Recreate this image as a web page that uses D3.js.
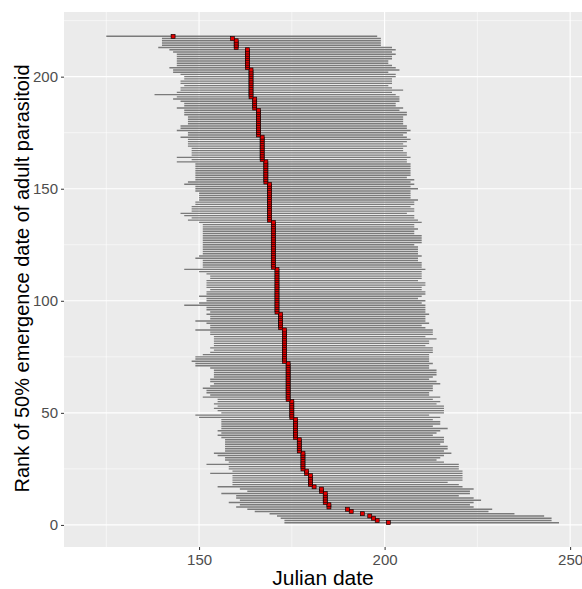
<!DOCTYPE html>
<html>
<head>
<meta charset="utf-8">
<script src="https://cdn.jsdelivr.net/npm/d3@7"></script>
<style>
  html, body { margin: 0; padding: 0; background: #fff; }
  svg { display: block; font-family: "Liberation Sans", Arial, sans-serif; }
</style>
</head>
<body>
<div id="chart"></div>
<script>
// rank 1 (bottom) .. 218 (top)
const startDay = [
  173,173,172,171,169,165,163,160,161,158,
  161,160,160,156,163,161,155,159,159,159,
  159,159,153,159,158,158,152,158,157,157,
  155,154,157,157,157,157,157,157,156,155,
  156,155,156,156,156,156,156,150,149,156,
  155,154,155,154,155,155,151,153,152,152,
  151,153,154,153,153,154,154,154,154,153,
  149,149,148,149,149,151,153,154,153,154,
  154,154,154,154,153,153,149,153,153,152,
  149,153,153,152,153,152,152,146,150,152,
  152,150,152,152,153,152,152,152,152,153,
  153,152,150,146,151,151,151,151,149,150,
  151,151,151,151,151,151,151,151,151,151,
  151,151,151,151,150,147,148,146,145,148,
  148,148,149,149,150,150,150,150,149,149,
  149,146,147,149,149,149,149,149,149,149,
  149,144,148,144,148,148,148,148,147,147,
  147,147,145,147,147,144,145,145,147,147,
  147,147,146,146,146,144,146,146,145,143,
  144,138,144,145,145,146,145,145,146,146,
  145,143,143,142,144,144,144,144,144,144,
  143,142,139,140,140,140,140,125
];

const midDay = [
  201,198,197,196,194,191,190,185,185,184,
  184,184,184,184,183,183,181,180,180,180,
  180,180,179,179,178,178,178,178,178,178,
  178,178,177,177,177,177,177,177,176,176,
  176,176,176,176,176,176,176,175,175,175,
  175,175,175,175,175,174,174,174,174,174,
  174,174,174,174,174,174,174,174,174,174,
  174,174,173,173,173,173,173,173,173,173,
  173,173,173,173,173,173,173,172,172,172,
  172,172,172,172,171,171,171,171,171,171,
  171,171,171,171,171,171,171,171,171,171,
  171,171,171,171,170,170,170,170,170,170,
  170,170,170,170,170,170,170,170,170,170,
  170,170,170,170,170,169,169,169,169,169,
  169,169,169,169,169,169,169,169,169,169,
  169,169,168,168,168,168,168,168,168,168,
  168,168,167,167,167,167,167,167,167,167,
  167,167,167,166,166,166,166,166,166,166,
  166,166,166,166,166,165,165,165,165,165,
  164,164,164,164,164,164,164,164,164,164,
  164,164,164,163,163,163,163,163,163,163,
  163,163,160,160,160,160,159,143
];

const endDay = [
  247,245,245,243,235,228,229,224,223,224,
  226,224,220,223,223,224,221,220,217,221,
  221,221,221,221,220,220,220,216,214,215,
  216,218,216,217,217,215,216,216,216,213,
  214,215,217,213,215,215,213,215,212,216,
  216,216,216,214,215,213,215,212,212,213,
  213,213,215,214,212,213,214,214,214,212,
  212,213,212,212,212,212,213,213,213,211,
  212,212,214,211,213,213,213,211,210,212,
  211,211,211,212,211,211,211,211,210,211,
  209,210,211,211,210,210,211,211,209,210,
  210,210,210,211,210,210,210,209,209,210,
  209,209,209,209,208,210,210,210,210,208,
  208,209,208,208,210,209,208,208,206,208,
  208,207,208,208,209,207,207,207,207,209,
  207,208,207,208,206,207,207,207,207,207,
  207,206,206,207,206,206,205,205,206,205,
  206,207,206,205,206,207,206,206,205,205,
  205,205,206,206,204,205,203,203,204,204,
  204,203,202,205,202,201,202,202,202,203,
  203,201,204,203,202,201,201,202,202,203,
  202,203,202,199,199,199,199,198
];

const xTicks = [150, 200, 250];
const xMinor = [125, 175, 225];
const yTicks = [0, 50, 100, 150, 200];
const yMinor = [25, 75, 125, 175, 225];

const rows = startDay.map((s, i) => ({ rank: i + 1, start: s, mid: midDay[i], end: endDay[i] }));

const WIDTH = 582, HEIGHT = 589;
const PANEL = { left: 64, top: 12, right: 582, bottom: 547 };

const svg = d3.select('#chart').append('svg')
  .attr('width', WIDTH)
  .attr('height', HEIGHT);

const x = d3.scaleLinear().domain([113.6, 253.2]).range([PANEL.left, PANEL.right]);
const y = d3.scaleLinear().domain([-9.85, 228.85]).range([PANEL.bottom, PANEL.top]);

// panel background
svg.append('rect')
  .attr('x', PANEL.left).attr('y', PANEL.top)
  .attr('width', PANEL.right - PANEL.left)
  .attr('height', PANEL.bottom - PANEL.top)
  .attr('fill', '#ebebeb');

const grid = svg.append('g');
grid.selectAll('.vminor').data(xMinor).join('line')
  .attr('x1', d => x(d)).attr('x2', d => x(d))
  .attr('y1', PANEL.top).attr('y2', PANEL.bottom)
  .attr('stroke', '#fff').attr('stroke-width', 0.55);
grid.selectAll('.hminor').data(yMinor).join('line')
  .attr('y1', d => y(d)).attr('y2', d => y(d))
  .attr('x1', PANEL.left).attr('x2', PANEL.right)
  .attr('stroke', '#fff').attr('stroke-width', 0.55);
grid.selectAll('.vmajor').data(xTicks).join('line')
  .attr('x1', d => x(d)).attr('x2', d => x(d))
  .attr('y1', PANEL.top).attr('y2', PANEL.bottom)
  .attr('stroke', '#fff').attr('stroke-width', 1.1);
grid.selectAll('.hmajor').data(yTicks).join('line')
  .attr('y1', d => y(d)).attr('y2', d => y(d))
  .attr('x1', PANEL.left).attr('x2', PANEL.right)
  .attr('stroke', '#fff').attr('stroke-width', 1.1);

// emergence ranges
svg.append('g').selectAll('line').data(rows).join('line')
  .attr('x1', d => x(d.start)).attr('x2', d => x(d.end))
  .attr('y1', d => y(d.rank)).attr('y2', d => y(d.rank))
  .attr('stroke', '#7a7a7a')
  .attr('stroke-width', 1.4);

// 50% emergence points
const S = 4;
svg.append('g').selectAll('rect').data(rows).join('rect')
  .attr('x', d => x(d.mid) - S / 2).attr('y', d => y(d.rank) - S / 2)
  .attr('width', S).attr('height', S)
  .attr('fill', '#e00000')
  .attr('stroke', '#000')
  .attr('stroke-width', 0.6);

// axes
const xAxis = svg.append('g')
  .attr('transform', `translate(0,${PANEL.bottom})`)
  .call(d3.axisBottom(x).tickValues(xTicks).tickSize(3).tickPadding(4));
const yAxis = svg.append('g')
  .attr('transform', `translate(${PANEL.left},0)`)
  .call(d3.axisLeft(y).tickValues(yTicks).tickSize(3).tickPadding(3));

[xAxis, yAxis].forEach(ax => {
  ax.select('.domain').remove();
  ax.selectAll('line').attr('stroke', '#333').attr('stroke-width', 1);
  ax.selectAll('text')
    .attr('fill', '#4d4d4d')
    .style('font-size', '15px')
    .style('font-family', '"Liberation Sans", Arial, sans-serif');
});

// axis titles
svg.append('text')
  .attr('x', (PANEL.left + PANEL.right) / 2)
  .attr('y', 585)
  .attr('text-anchor', 'middle')
  .style('font-size', '21px')
  .attr('fill', '#000')
  .text('Julian date');

svg.append('text')
  .attr('transform', `translate(29,${(PANEL.top + PANEL.bottom) / 2 - 1}) rotate(-90)`)
  .attr('text-anchor', 'middle')
  .style('font-size', '20px')
  .attr('fill', '#000')
  .text('Rank of 50% emergence date of adult parasitoid');
</script>
</body>
</html>
